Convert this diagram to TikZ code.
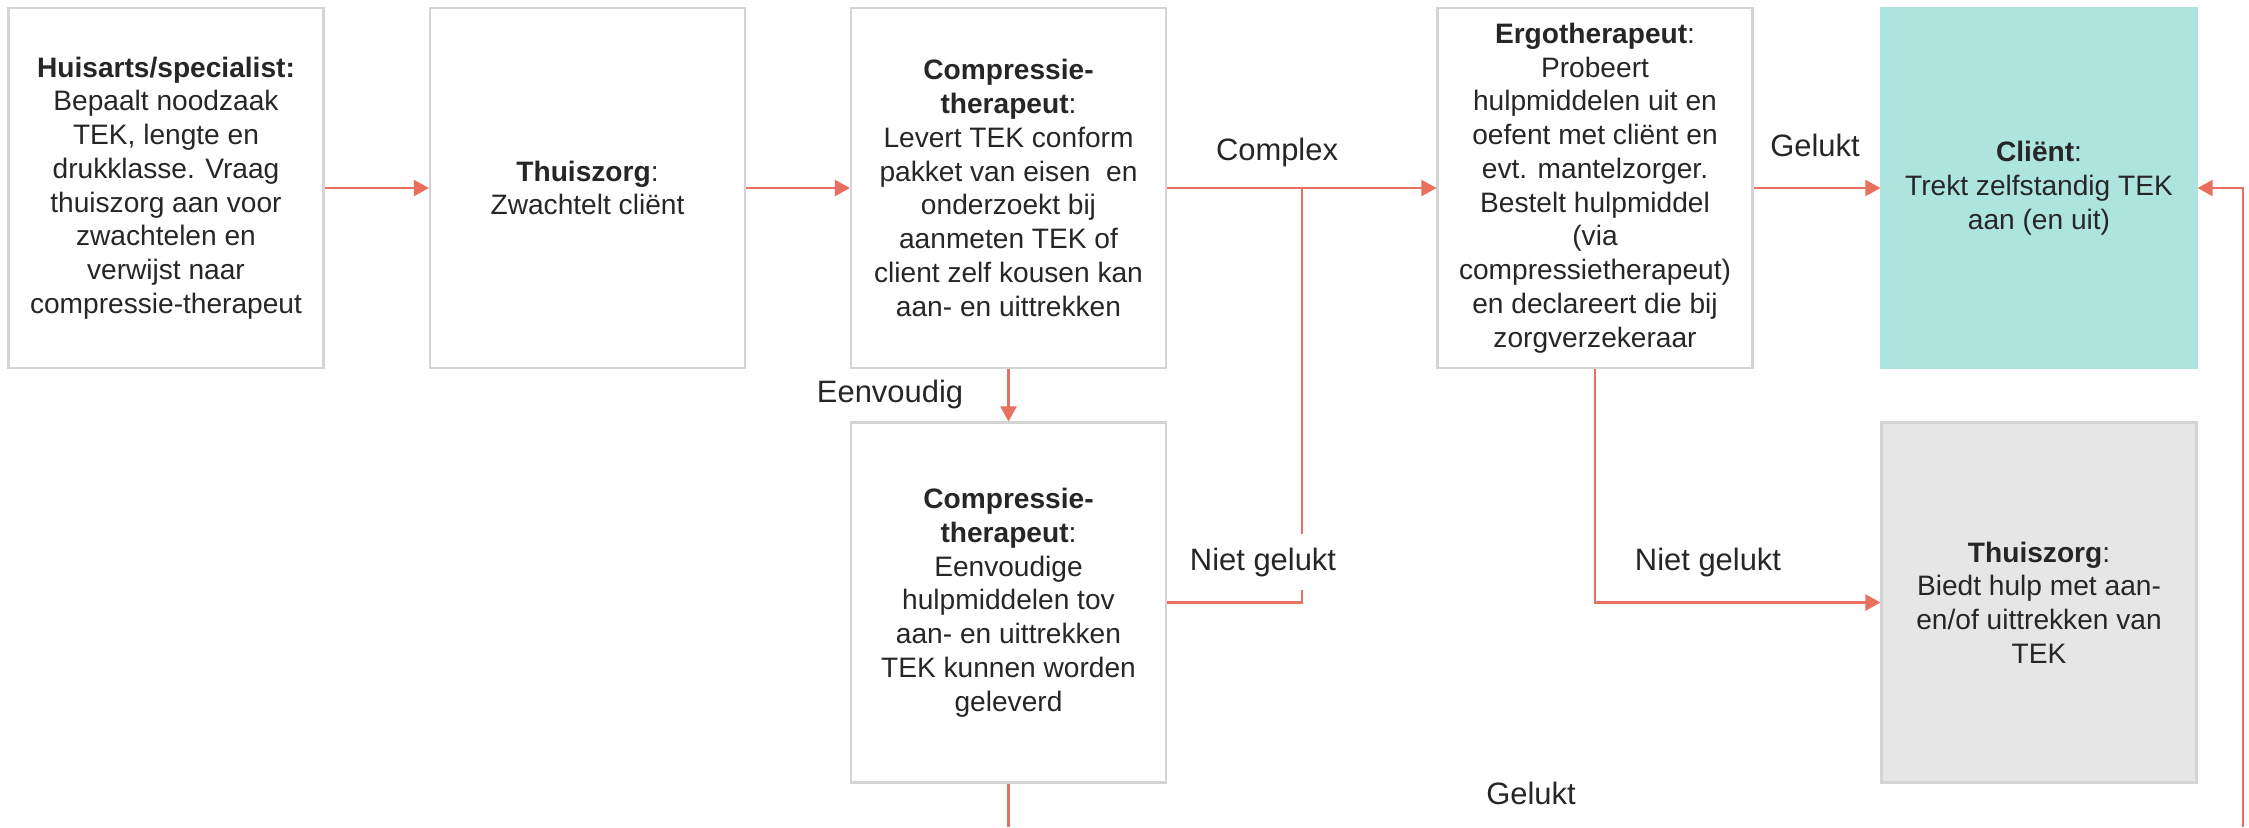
\documentclass[tikz,border=0pt]{standalone}
\usepackage{fontspec}
\setmainfont{Liberation Sans}
\usetikzlibrary{arrows.meta}
\definecolor{lijn}{HTML}{E8705F}
\definecolor{rand}{HTML}{D4D4D4}
\definecolor{tekst}{HTML}{262626}
\definecolor{turkoois}{HTML}{AEE4DE}
\definecolor{grijs}{HTML}{E6E6E6}
\newcommand{\kop}[1]{\textbf{#1}}

\begin{document}
\begin{tikzpicture}[
 blok/.style={draw=rand, line width=0.6pt, minimum width=3.15cm, minimum height=3.6cm, align=center, text=tekst, font=\fontsize{8}{9.6}\selectfont, inner sep=2pt},
 pijl/.style={lijn, line width=0.6pt, -{Triangle[length=0.15cm,width=0.16cm]}},
 lijntje/.style={lijn, line width=0.6pt},
 lbl/.style={text=tekst, font=\fontsize{8.8}{10}\selectfont, inner sep=1pt}]
\useasboundingbox (0,0) rectangle (22.49,-8.27);
\node[blok] (huisarts) at (1.66,-1.88) {\kop{Huisarts/specialist:}\\Bepaalt noodzaak\\TEK, lengte en\\drukklasse. Vraag\\thuiszorg aan voor\\zwachtelen en\\verwijst naar\\compressie-therapeut};
\node[blok] (thuis) at (5.875,-1.88) {\kop{Thuiszorg}:\\Zwachtelt cliënt};
\node[blok] (comp) at (10.085,-1.88) {\kop{Compressie-}\\\kop{therapeut}:\\Levert TEK conform\\pakket van eisen\ \ en\\onderzoekt bij\\aanmeten TEK of\\client zelf kousen kan\\aan- en uittrekken};
\node[blok] (ergo) at (15.95,-1.88) {\kop{Ergotherapeut}:\\Probeert\\hulpmiddelen uit en\\oefent met cliënt en\\evt. mantelzorger.\\Bestelt hulpmiddel\\(via\\compressietherapeut)\\en declareert die bij\\zorgverzekeraar};
\node[blok, fill=turkoois, draw=turkoois] (client) at (20.39,-1.88) {\kop{Cliënt}:\\Trekt zelfstandig TEK\\aan (en uit)};
\node[blok] (comp2) at (10.085,-6.025) {\kop{Compressie-}\\\kop{therapeut}:\\Eenvoudige\\hulpmiddelen tov\\aan- en uittrekken\\TEK kunnen worden\\geleverd};
\node[blok, fill=grijs] (thuis2) at (20.39,-6.025) {\kop{Thuiszorg}:\\Biedt hulp met aan-\\en/of uittrekken van\\TEK};

\coordinate (splits) at (13.02,-1.88);
\coordinate (onder1) at (10.085,-8.27);
\coordinate (onder2) at (22.43,-8.27);

\draw[pijl] (huisarts) -- (thuis);
\draw[pijl] (thuis) -- (comp);
\draw[pijl] (comp) -- (ergo);
\draw[pijl] (ergo) -- (client);
\draw[pijl] (comp) -- (comp2);
\draw[lijntje] (comp2.east) -| (splits);
\draw[pijl] (ergo.south) |- (thuis2.west);
\draw[lijntje] (comp2.south) -- (onder1);
\draw[pijl] (onder2) |- (client.east);

\node[lbl] (complex) at (12.77,-1.52) {Complex};
\node[lbl] (gelukt1) at (18.15,-1.45) {Gelukt};
\node[lbl] (eenvoudig) at (8.90,-3.94) {Eenvoudig};
\node[lbl, fill=white, inner ysep=4pt] (niet1) at (12.63,-5.62) {Niet gelukt};
\node[lbl] (niet2) at (17.08,-5.62) {Niet gelukt};
\node[lbl] (gelukt2) at (15.31,-7.93) {Gelukt};
\end{tikzpicture}
\end{document}
